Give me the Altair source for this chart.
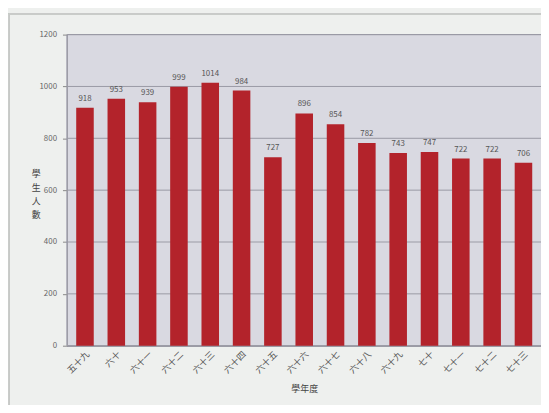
import altair as alt
import pandas as pd

years = ["五十九", "六十", "六十一", "六十二", "六十三", "六十四", "六十五", "六十六",
         "六十七", "六十八", "六十九", "七十", "七十一", "七十二", "七十三"]
students = [918, 953, 939, 999, 1014, 984, 727, 896, 854, 782, 743, 747, 722, 722, 706]
y_ticks = [0, 200, 400, 600, 800, 1000, 1200]

df = pd.DataFrame({"year": years, "students": students})
grid_df = pd.DataFrame({"tick": y_ticks})
FONT = "Noto Sans CJK TC"
W, H = 478, 314

yscale = alt.Scale(domain=[0, 1200], nice=False)

x = alt.X("year:N", sort=years,
          scale=alt.Scale(paddingInner=0.44, paddingOuter=0.28),
          axis=alt.Axis(title="學年度", labelAngle=-45, labelAlign="right",
                        labelBaseline="top", labelFontSize=9, labelColor="#555",
                        titleFontSize=9, titleColor="#444", titleFontWeight="normal",
                        titlePadding=10, ticks=False, domain=False, labelPadding=4))
y = alt.Y("students:Q", scale=yscale,
          axis=alt.Axis(title=["學", "生", "人", "數"], titleAngle=0,
                        titleAlign="center", titleBaseline="middle",
                        titleX=-32, titleY=140, titleFontSize=9, titleColor="#444",
                        titleFontWeight="normal", titleLineHeight=14,
                        values=y_ticks, format="d", labelFontSize=8, labelColor="#666",
                        tickColor="#888", tickSize=5, domain=False, grid=False,
                        labelPadding=6))

plot_bg = alt.Chart(df).mark_rect(color="#d9d9e1", stroke="#9a9aa4", strokeWidth=1).encode(
    x=alt.value(0), x2=alt.value(W + 10), y=alt.value(0), y2=alt.value(H))
grid = alt.Chart(grid_df).mark_rule(color="#9a9aa4", strokeWidth=1).encode(
    y=alt.Y("tick:Q", scale=yscale), x=alt.value(0), x2=alt.value(W + 10))
bars = alt.Chart(df).mark_bar(color="#b3232b").encode(x=x, y=y)
labels = alt.Chart(df).mark_text(dy=-9, fontSize=8, color="#555", font=FONT).encode(
    x=alt.X("year:N", sort=years), y="students:Q", text="students:Q")

frame_h = alt.Chart(df).mark_rule(color="#c8cac8", strokeWidth=1, clip=False).encode(
    x=alt.value(-60), x2=alt.value(W + 10), y=alt.value(-21))
frame_v = alt.Chart(df).mark_rule(color="#c8cac8", strokeWidth=1, clip=False).encode(
    x=alt.value(-59), y=alt.value(-21), y2=alt.value(400))

chart = alt.layer(plot_bg, grid, bars, labels, frame_h, frame_v).properties(
    width=W, height=H,
    autosize=alt.AutoSizeParams(type="none"),
    padding={"left": 60, "top": 25, "right": 0, "bottom": 58},
    background="#eef0ee",
).configure_view(
    stroke=None
).configure(font=FONT)

chart.save("out.html", embed_options={"renderer": "svg", "actions": False})
